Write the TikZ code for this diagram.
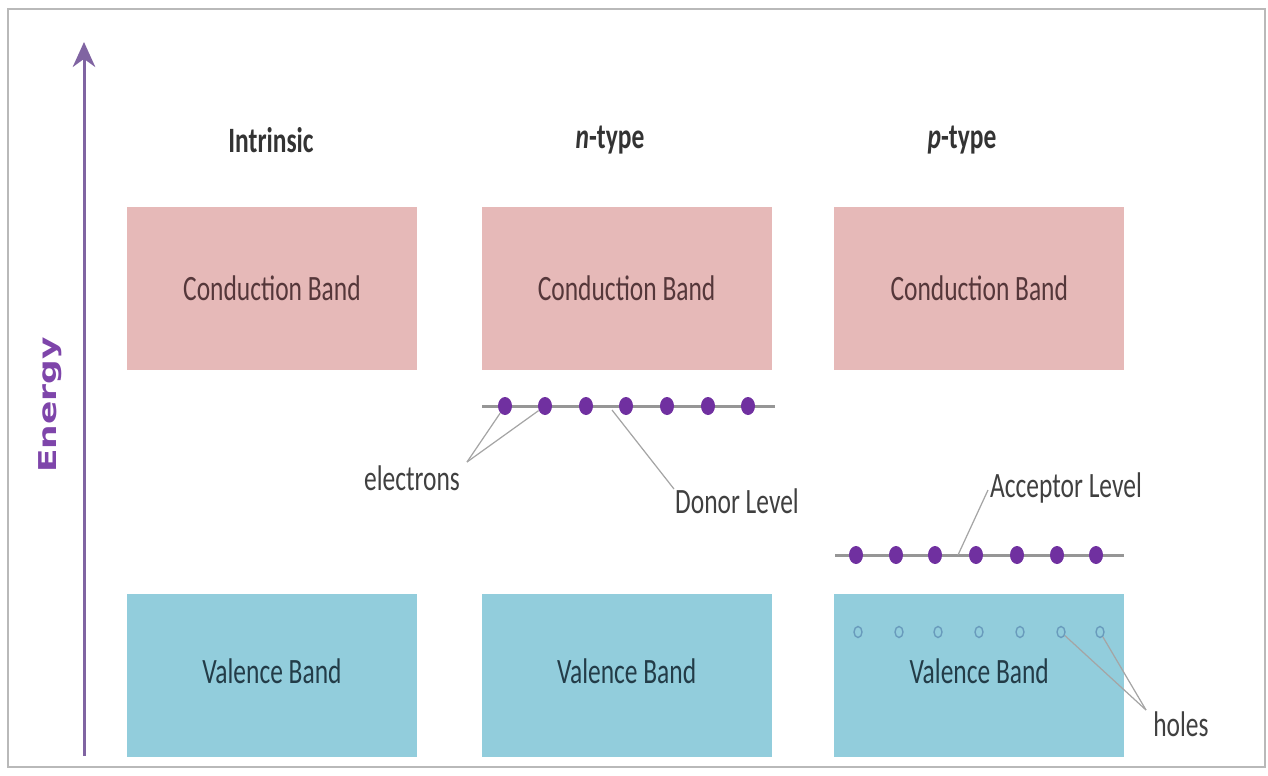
\documentclass[tikz,border=0pt]{standalone}
\usepackage{fontspec}
\setmainfont{Carlito}
\newfontfamily\enfont{DejaVu Sans}
\usepackage{graphicx}
\usepackage{xcolor}
\usepackage{tikz}
\usetikzlibrary{shapes.geometric,arrows.meta,positioning}
\definecolor{condpink}{RGB}{230,185,184}
\definecolor{valblue}{RGB}{146,205,220}
\definecolor{dotpurple}{RGB}{112,48,160}
\definecolor{axispurple}{RGB}{128,100,162}
\definecolor{levelgray}{RGB}{150,150,150}
\definecolor{leadgray}{RGB}{165,165,165}
\definecolor{holeblue}{RGB}{105,155,188}
\definecolor{framegray}{RGB}{185,185,185}
\definecolor{condtext}{RGB}{85,55,58}
\definecolor{valtext}{RGB}{35,60,72}
\definecolor{labtext}{RGB}{64,64,64}
\newcommand{\tallt}[1]{\scalebox{1}[1.4]{#1}}
\tikzset{
  cband/.style={rectangle,fill=condpink,minimum width=5.8cm,minimum height=3.26cm,
              font=\fontsize{14.5}{16}\selectfont,text=condtext},
  vband/.style={rectangle,fill=valblue,minimum width=5.8cm,minimum height=3.26cm,
              font=\fontsize{14.5}{16}\selectfont,text=valtext},
  title/.style={font=\fontsize{14.5}{16}\selectfont\bfseries,text=black!80},
  lab/.style={font=\fontsize{14.5}{16}\selectfont,text=labtext,inner sep=1pt},
  edot/.style={ellipse,fill=dotpurple,minimum width=0.28cm,minimum height=0.36cm,inner sep=0pt},
  hole/.style={ellipse,draw=holeblue,line width=0.8pt,minimum width=0.16cm,minimum height=0.22cm,inner sep=0pt},
  level/.style={draw=levelgray,line width=0.06cm},
  lead/.style={draw=leadgray,line width=0.7pt},
  axis/.style={-{Stealth[length=0.5cm,width=0.45cm]},draw=axispurple,line width=0.06cm},
}
\begin{document}
\begin{tikzpicture}[x=0.02cm,y=-0.02cm,node distance=4.46cm and 1.28cm]
  \useasboundingbox (0,0) rectangle (1268,775);
  \draw[framegray,line width=0.04cm] (8,9) rectangle (1265,767);

  % energy axis
  \coordinate (ebot) at (84,756);
  \coordinate (etop) at (84,42);
  \draw[axis] (ebot) -- (etop);
  \node[rotate=90,font=\enfont\bfseries\fontsize{14}{16}\selectfont,text=dotpurple!90] (en) at (50,405) {\scalebox{1.4}[1]{Energy}};

  % bands
  \node[cband] (cb1) at (272,288.5) {\tallt{Conduction Band}};
  \node[cband,right=of cb1] (cb2) {\tallt{Conduction Band}};
  \node[cband,right=1.24cm of cb2] (cb3) {\tallt{Conduction Band}};
  \node[vband,below=of cb1] (vb1) {\tallt{\raisebox{3pt}{Valence Band}}};
  \node[vband,below=of cb2] (vb2) {\tallt{\raisebox{3pt}{Valence Band}}};
  \node[vband,below=of cb3] (vb3) {\tallt{\raisebox{3pt}{Valence Band}}};

  \node[title] (t1) at (271,140) {\tallt{Intrinsic}};
  \node[title] (t2) at (610,140) {\tallt{\textit{n}-type}};
  \node[title] (t3) at (962,140) {\tallt{\textit{p}-type}};

  % donor level
  \coordinate (dl) at (482,406);
  \coordinate (dr) at (775,406);
  \draw[level] (dl) -- (dr);
  \node[edot] (e1) at (505,406) {};
  \node[edot] (e2) at (545,406) {};
  \node[edot] (e3) at (586,406) {};
  \node[edot] (e4) at (626,406) {};
  \node[edot] (e5) at (667,406) {};
  \node[edot] (e6) at (708,406) {};
  \node[edot] (e7) at (748,406) {};

  % acceptor level
  \coordinate (al) at (835,555);
  \coordinate (ar) at (1124,555);
  \draw[level] (al) -- (ar);
  \node[edot] (a1) at (856,555) {};
  \node[edot] (a2) at (896,555) {};
  \node[edot] (a3) at (935,555) {};
  \node[edot] (a4) at (976,555) {};
  \node[edot] (a5) at (1017,555) {};
  \node[edot] (a6) at (1057,555) {};
  \node[edot] (a7) at (1096,555) {};

  % holes
  \node[hole] (h1) at (858,632) {};
  \node[hole] (h2) at (899,632) {};
  \node[hole] (h3) at (938,632) {};
  \node[hole] (h4) at (979,632) {};
  \node[hole] (h5) at (1020,632) {};
  \node[hole] (h6) at (1061,632) {};
  \node[hole] (h7) at (1100,632) {};

  % labels
  \node[lab] (elec) at (412,478) {\tallt{electrons}};
  \node[lab] (don) at (737,501) {\tallt{Donor Level}};
  \node[lab] (acc) at (1066,488) {\tallt{Acceptor Level}};
  \node[lab] (hol) at (1181,724) {\tallt{holes}};

  \coordinate (ej) at (467,462);
  \coordinate (dj) at (674,489);
  \coordinate (dp) at (612,410);
  \coordinate (aj) at (988,490);
  \coordinate (ap) at (958,555);
  \coordinate (hj) at (1146,710);
  \draw[lead] (ej) -- (e1);
  \draw[lead] (ej) -- (e2);
  \draw[lead] (dj) -- (dp);
  \draw[lead] (aj) -- (ap);
  \draw[lead] (hj) -- (h6);
  \draw[lead] (hj) -- (h7);
\end{tikzpicture}
\end{document}
